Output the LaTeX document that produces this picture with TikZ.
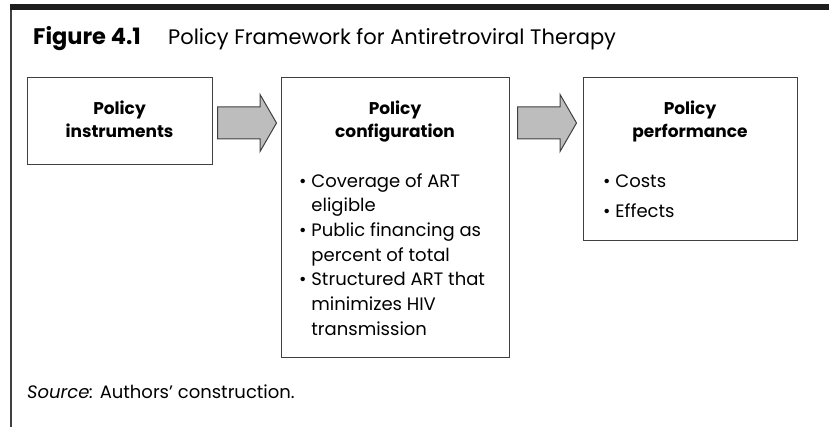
\documentclass[tikz,border=0pt]{standalone}
\usepackage{fontspec}
\setmainfont{Poppins}
\usetikzlibrary{shapes.arrows,positioning}
\definecolor{framegray}{HTML}{1E1E1E}
\definecolor{linegray}{HTML}{404040}
\definecolor{arrowgray}{HTML}{BDBDBD}
\newcommand{\bulletpad}{\hphantom{\textbullet\ }}

\begin{document}
\begin{tikzpicture}[x=1pt,y=-1pt,
	box/.style={draw=linegray,rectangle,line width=1pt,inner sep=0pt},
	bigarrow/.style={single arrow,draw=linegray,fill=arrowgray,line width=1pt,inner sep=0pt,
		text height=15.5pt,text depth=15.5pt,minimum height=59pt,minimum width=56pt,
		single arrow head extend=12.5pt,single arrow tip angle=120,anchor=tail},
	head/.style={align=center,font=\fontsize{17}{23}\selectfont\bfseries,inner sep=0pt},
	items/.style={align=left,font=\fontsize{18}{24.6}\selectfont,inner sep=0pt}]
	
	\useasboundingbox (0,0) rectangle (829,427);
	
	% keret
	\fill[framegray] (10,4) rectangle (829,10);
	\draw[linegray,line width=1.2pt] (11,10) -- (11,427);
	
	% cim
	\node[anchor=base west,inner sep=0pt,font=\fontsize{22.5}{24}\selectfont\bfseries] (fignum) at (33,45) {Figure 4.1};
	\node[anchor=base west,inner sep=0pt,font=\fontsize{21}{24}\selectfont] (figtitle) at (168,45) {Policy Framework for Antiretroviral Therapy};
	
	% dobozok
	\node[box,minimum width=185pt,minimum height=87pt] (instr) at (119.5,121.5) {};
	\node[box,minimum width=228pt,minimum height=279pt] (config) at (395,217.5) {};
	\node[box,minimum width=214pt,minimum height=163pt] (perf) at (690,159.5) {};
	
	% fejlecek (base = utolso sor)
	\node[head,anchor=base] (instrhead) at (119.5,138) {Policy\\instruments};
	\node[head,anchor=base] (confighead) at (395,138) {Policy\\configuration};
	\node[head,anchor=base] (perfhead) at (690,138) {Policy\\performance};
	
	% felsorolasok
	\node[items,anchor=base west] (configlist) at (299,335) {\textbullet\ Coverage of ART\\
		\bulletpad eligible\\
		\textbullet\ Public financing as\\
		\bulletpad percent of total\\
		\textbullet\ Structured ART that\\
		\bulletpad minimizes HIV\\
		\bulletpad transmission};
	\node[items,anchor=base west] (perflist) at (603,218) {\textbullet\ Costs\\[5.4pt]
		\textbullet\ Effects};
	
	% nyilak
	\node[bigarrow] (arrA) at (217,123) {};
	\node[bigarrow] (arrB) at (517,123) {};
	
	% forras
	\node[anchor=base west,inner sep=0pt,font=\fontsize{18}{22}\selectfont] (source) at (27,398) {\textit{Source:} Authors’ construction.};
\end{tikzpicture}
\end{document}
